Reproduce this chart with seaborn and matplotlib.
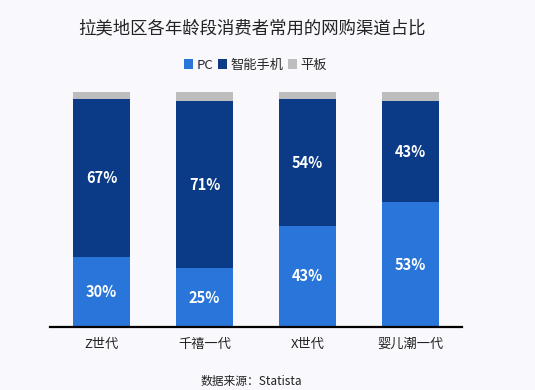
import matplotlib.pyplot as plt
import numpy as np
import pandas as pd
import seaborn as sns
from matplotlib.patches import Patch

GENERATIONS = ["Z世代", "千禧一代", "X世代", "婴儿潮一代"]
PC = [30, 25, 43, 53]
PHONE = [67, 71, 54, 43]
TABLET = [3, 4, 3, 4]

SERIES = ["PC", "智能手机", "平板"]
COLORS = ["#2A75D9", "#0B3B87", "#BDBDBD"]
BG = "#F9F9FD"


def main() -> None:
    sns.set_theme(style="white")
    plt.rcParams["font.family"] = ["Noto Sans CJK SC", "DejaVu Sans"]

    df = pd.DataFrame(
        {"generation": GENERATIONS, "PC": PC, "智能手机": PHONE, "平板": TABLET}
    )
    df["pc_phone"] = df["PC"] + df["智能手机"]
    df["total"] = df["pc_phone"] + df["平板"]

    fig = plt.figure(figsize=(5.35, 3.9), dpi=100, facecolor=BG)
    ax = fig.add_axes([0.0935, 0.1615, 0.77, 0.6026])
    ax.set_facecolor(BG)

    # stacked look: draw cumulative totals from the tallest down
    for col, color in [("total", COLORS[2]), ("pc_phone", COLORS[1]), ("PC", COLORS[0])]:
        sns.barplot(data=df, x="generation", y=col, color=color, width=0.55,
                    saturation=1, ax=ax, linewidth=0)

    for i, row in df.iterrows():
        ax.text(i, row["PC"] / 2, f"{row['PC']}%", ha="center", va="center",
                color="white", fontsize=10.5, fontweight="bold")
        ax.text(i, row["PC"] + row["智能手机"] / 2, f"{row['智能手机']}%", ha="center",
                va="center", color="white", fontsize=10.5, fontweight="bold")

    ax.set_xlim(-0.5, 3.5)
    ax.set_ylim(0, 100)
    ax.set_xlabel("")
    ax.set_ylabel("")
    ax.set_yticks([])
    ax.tick_params(axis="x", length=0, labelsize=9.5, pad=8, colors="#222222")
    for side in ["top", "right", "left"]:
        ax.spines[side].set_visible(False)
    ax.spines["bottom"].set_color("black")
    ax.spines["bottom"].set_linewidth(1.6)

    fig.text(0.471, 0.926, "拉美地区各年龄段消费者常用的网购渠道占比", ha="center",
             va="center", fontsize=12.5, color="#222222")

    handles = [Patch(facecolor=c, edgecolor="none") for c in COLORS]
    fig.legend(handles, SERIES, loc="center", bbox_to_anchor=(0.477, 0.833), ncol=3,
               frameon=False, fontsize=9.5, handlelength=0.7, handleheight=0.7,
               handletextpad=0.25, columnspacing=0.35)

    fig.text(0.469, 0.023, "数据来源：Statista", ha="center", va="center",
             fontsize=8.5, color="#222222")

    fig.savefig("out.png", dpi=100, facecolor=BG)


if __name__ == "__main__":
    main()
